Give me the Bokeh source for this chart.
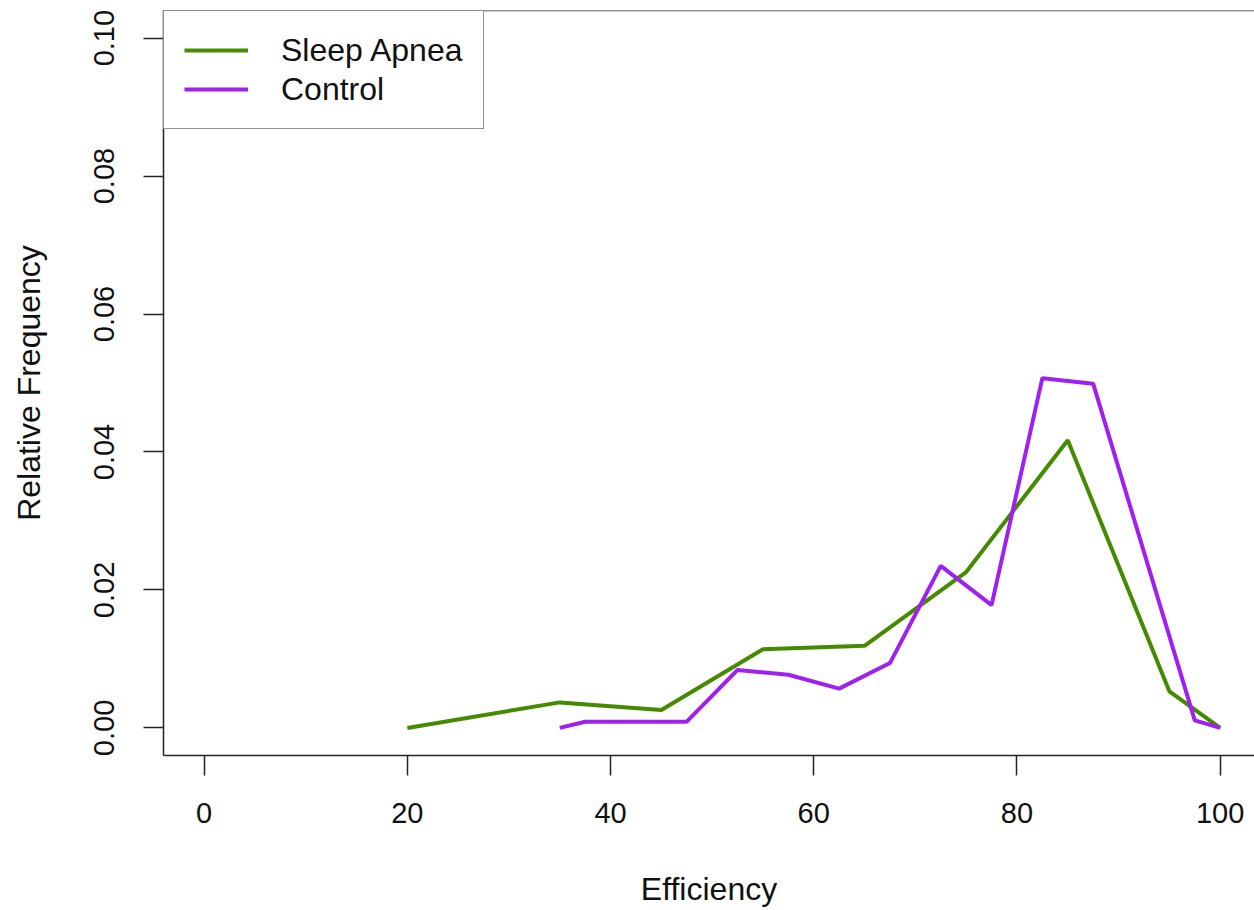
import math
from bokeh.plotting import figure
from bokeh.models import Span, Legend, LegendItem, FixedTicker, Range1d
from bokeh.embed import file_html
from bokeh.resources import INLINE

# Data
sa_x = [20, 35, 45, 55, 65, 75, 85, 95, 100]
sa_y = [0.0, 0.0037, 0.0026, 0.0114, 0.0119, 0.0226, 0.0417, 0.0053, 0.0]

ctrl_x = [35, 37.5, 47.5, 52.5, 57.5, 62.5, 67.5, 72.5, 77.5, 82.5, 87.5, 97.5, 100]
ctrl_y = [0.0, 0.0009, 0.0009, 0.0084, 0.0077, 0.0057, 0.0094, 0.0235, 0.0178, 0.0507, 0.0499, 0.0011, 0.0]

x_ticks = [0, 20, 40, 60, 80, 100]
y_ticks = [0.00, 0.02, 0.04, 0.06, 0.08, 0.10]
y_tick_labels = {0.0: "0.00", 0.02: "0.02", 0.04: "0.04", 0.06: "0.06", 0.08: "0.08", 0.1: "0.10"}

GREEN = "#458B00"
PURPLE = "#A020F0"
FONT = "Liberation Sans"
BOX = "#222222"

p = figure(width=1254, height=910, output_backend="svg", toolbar_location=None,
           x_range=Range1d(-4, 103.38), y_range=Range1d(-0.004, 0.104),
           min_border_left=163, min_border_right=0, min_border_top=10, min_border_bottom=155)
p.outline_line_color = None
p.xgrid.visible = False
p.ygrid.visible = False
p.background_fill_color = "white"
p.border_fill_color = "white"

r1 = p.line(sa_x, sa_y, line_color=GREEN, line_width=4)
r2 = p.line(ctrl_x, ctrl_y, line_color=PURPLE, line_width=4)

# top border of the box
p.add_layout(Span(location=0.104, dimension="width", line_color=BOX, line_width=1.5))

xa = p.xaxis[0]
xa.ticker = FixedTicker(ticks=x_ticks)
xa.minor_tick_line_color = None
xa.major_tick_in = 0
xa.major_tick_out = 20
xa.major_tick_line_color = BOX
xa.major_tick_line_width = 1.5
xa.axis_line_color = BOX
xa.axis_line_width = 1.5
xa.major_label_text_font = FONT
xa.major_label_text_font_size = "29px"
xa.major_label_text_color = "#111111"
xa.major_label_standoff = 27
xa.axis_label = "Efficiency"
xa.axis_label_text_font = FONT
xa.axis_label_text_font_size = "32px"
xa.axis_label_text_font_style = "normal"
xa.axis_label_text_color = "#111111"
xa.axis_label_standoff = 45

ya = p.yaxis[0]
ya.ticker = FixedTicker(ticks=y_ticks)
ya.major_label_overrides = y_tick_labels
ya.minor_tick_line_color = None
ya.major_tick_in = 0
ya.major_tick_out = 20
ya.major_tick_line_color = BOX
ya.major_tick_line_width = 1.5
ya.axis_line_color = BOX
ya.axis_line_width = 1.5
ya.major_label_text_font = FONT
ya.major_label_text_font_size = "29px"
ya.major_label_text_color = "#111111"
ya.major_label_orientation = "vertical"
ya.major_label_standoff = 29
ya.axis_label = "Relative Frequency"
ya.axis_label_text_font = FONT
ya.axis_label_text_font_size = "32px"
ya.axis_label_text_font_style = "normal"
ya.axis_label_text_color = "#111111"
ya.axis_label_standoff = 45

legend = Legend(items=[LegendItem(label="Sleep Apnea", renderers=[r1]),
                       LegendItem(label="Control", renderers=[r2])],
                location="top_left", margin=0, padding=20, spacing=1,
                glyph_width=64, glyph_height=38, label_height=38, label_standoff=33,
                label_text_font=FONT, label_text_font_size="32px", label_text_color="#111111",
                border_line_color=BOX, border_line_width=1.5, background_fill_alpha=1.0)
p.add_layout(legend)

open("out.html", "w").write(file_html(p, INLINE))
